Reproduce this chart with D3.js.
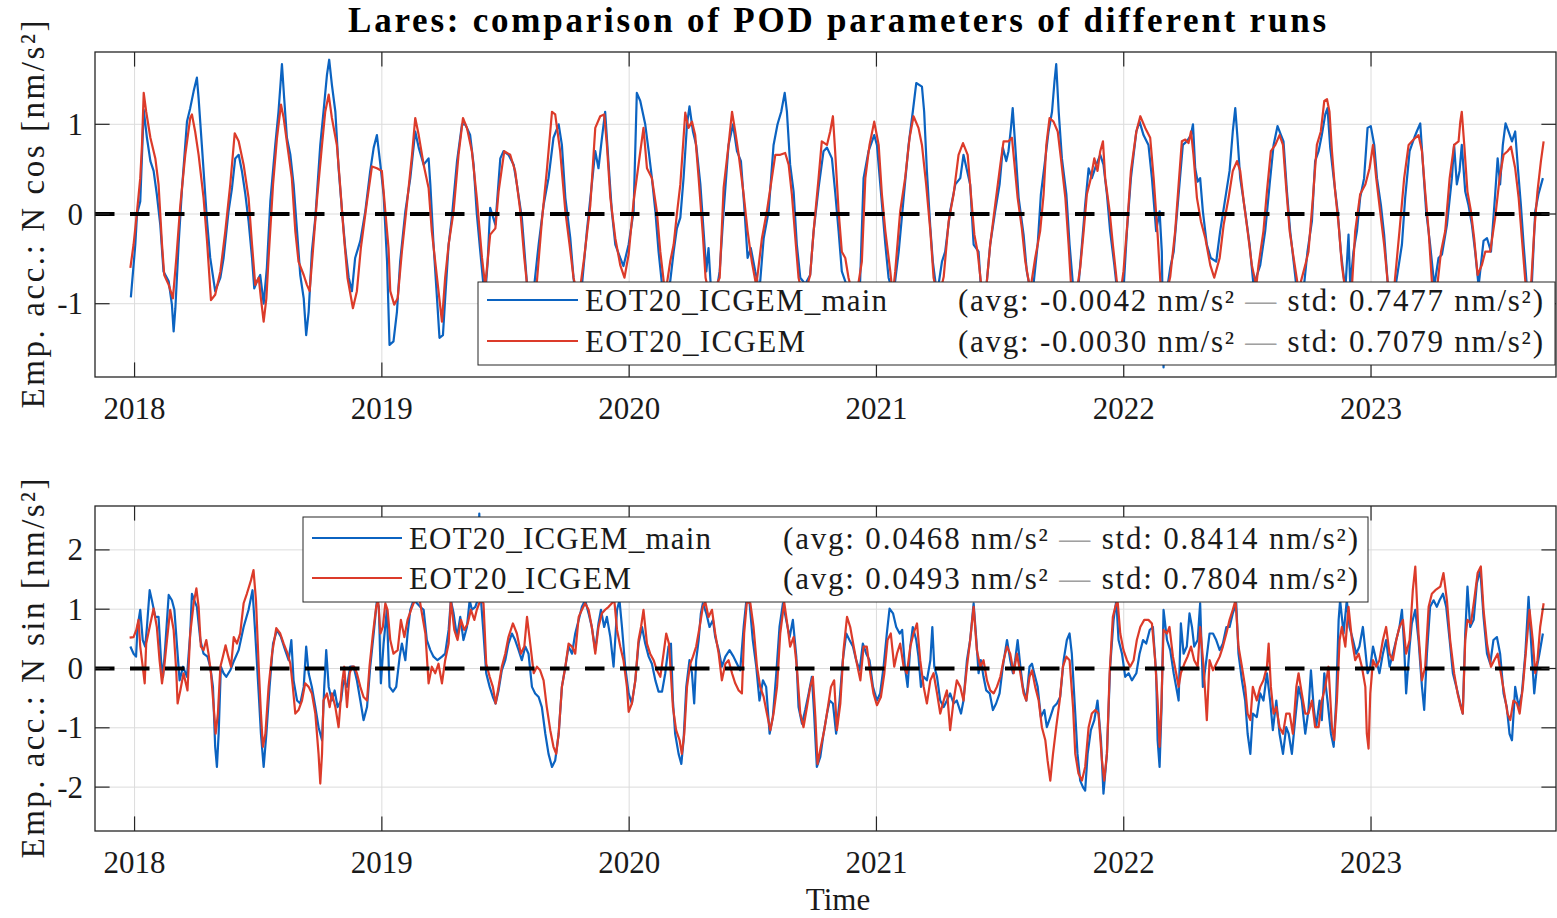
<!DOCTYPE html>
<html>
<head>
<meta charset="utf-8">
<script src="https://cdn.jsdelivr.net/npm/d3@7"></script>
<style>
  html, body { margin: 0; padding: 0; background: #fff; }
  svg { display: block; font-family: "Liberation Serif", "Times New Roman", serif; }
</style>
</head>
<body>
<svg id="chart" width="1557" height="918"></svg>
<script>
// ---- data (decimal year, nm/s^2) ----
const cosMain = [[2017.985,-0.93],[2018.003,-0.34],[2018.010,0.00],[2018.023,0.14],[2018.037,1.16],[2018.050,0.85],[2018.064,0.59],[2018.077,0.48],[2018.090,0.22],[2018.104,-0.12],[2018.117,-0.64],[2018.138,-0.75],[2018.151,-1.01],[2018.158,-1.31],[2018.165,-1.05],[2018.178,-0.34],[2018.192,0.29],[2018.212,1.03],[2018.225,1.18],[2018.239,1.37],[2018.252,1.52],[2018.259,1.29],[2018.272,0.77],[2018.293,-0.08],[2018.306,-0.49],[2018.326,-0.86],[2018.347,-0.71],[2018.360,-0.49],[2018.380,0.03],[2018.394,0.29],[2018.407,0.62],[2018.421,0.66],[2018.434,0.48],[2018.448,0.22],[2018.461,-0.08],[2018.475,-0.49],[2018.484,-0.83],[2018.495,-0.75],[2018.508,-0.68],[2018.522,-1.00],[2018.535,-0.60],[2018.549,0.14],[2018.569,0.77],[2018.582,1.14],[2018.596,1.67],[2018.605,1.29],[2018.616,0.85],[2018.630,0.66],[2018.643,0.33],[2018.657,-0.19],[2018.670,-0.68],[2018.684,-0.94],[2018.694,-1.35],[2018.704,-1.09],[2018.717,-0.42],[2018.731,-0.04],[2018.751,0.77],[2018.764,1.14],[2018.778,1.55],[2018.787,1.72],[2018.798,1.44],[2018.812,1.14],[2018.825,0.51],[2018.839,0.03],[2018.852,-0.38],[2018.866,-0.71],[2018.879,-0.86],[2018.892,-0.49],[2018.913,-0.30],[2018.933,0.03],[2018.953,0.48],[2018.967,0.74],[2018.980,0.88],[2018.994,0.55],[2019.007,0.22],[2019.021,-0.53],[2019.031,-1.46],
[2019.047,-1.42],[2019.061,-1.09],[2019.074,-0.53],[2019.095,0.03],[2019.115,0.40],[2019.135,0.92],[2019.149,0.74],[2019.169,0.55],[2019.189,0.62],[2019.196,0.33],[2019.209,-0.34],[2019.223,-0.94],[2019.233,-1.38],[2019.247,-1.35],[2019.256,-0.94],[2019.270,-0.34],[2019.283,-0.04],[2019.304,0.59],[2019.324,1.00],[2019.337,1.00],[2019.357,0.88],[2019.371,0.55],[2019.384,0.00],[2019.398,-0.42],[2019.411,-0.80],[2019.418,-0.90],[2019.428,-0.53],[2019.438,0.07],[2019.459,-0.12],[2019.479,0.62],[2019.492,0.70],[2019.512,0.66],[2019.533,0.55],[2019.546,0.33],[2019.566,-0.04],[2019.580,-0.53],[2019.593,-1.00],[2019.614,-0.85],[2019.634,-0.34],[2019.654,0.10],[2019.674,0.40],[2019.694,0.85],[2019.715,1.00],[2019.728,0.77],[2019.742,0.18],[2019.762,-0.27],[2019.775,-0.71],[2019.789,-1.05],[2019.809,-0.80],[2019.829,-0.19],[2019.849,0.33],[2019.863,0.70],[2019.876,0.51],[2019.890,0.85],[2019.903,1.14],[2019.917,0.55],[2019.930,0.03],[2019.944,-0.34],[2019.964,-0.49],[2019.977,-0.58],[2019.998,-0.34],[2020.018,0.03],[2020.031,1.35],[2020.045,1.26],[2020.065,1.00],[2020.079,0.70],[2020.092,0.40],[2020.106,0.03],[2020.119,-0.42],[2020.133,-0.79],[2020.146,-1.05],[2020.166,-0.75],[2020.180,-0.42],[2020.193,-0.16],[2020.207,-0.04],
[2020.220,0.40],[2020.234,1.00],[2020.244,1.20],[2020.258,0.92],[2020.271,0.77],[2020.288,0.33],[2020.301,-0.19],[2020.312,-0.64],[2020.321,-0.38],[2020.331,-0.85],[2020.348,-0.95],[2020.366,-0.64],[2020.382,0.03],[2020.402,0.77],[2020.420,1.00],[2020.436,0.70],[2020.452,0.59],[2020.465,0.10],[2020.479,-0.49],[2020.492,-0.38],[2020.510,-0.64],[2020.527,-0.85],[2020.544,-0.27],[2020.564,0.03],[2020.584,0.77],[2020.600,1.00],[2020.615,1.14],[2020.629,1.35],[2020.638,1.14],[2020.651,0.55],[2020.665,0.25],[2020.678,-0.34],[2020.692,-0.71],[2020.712,-0.78],[2020.732,-0.68],[2020.746,-0.19],[2020.766,0.29],[2020.786,0.70],[2020.800,0.74],[2020.820,0.62],[2020.833,0.25],[2020.847,-0.19],[2020.860,-0.64],[2020.874,-0.75],[2020.894,-1.00],[2020.921,-0.95],[2020.934,-0.75],[2020.948,0.40],[2020.968,0.70],[2020.991,0.88],[2021.002,0.77],[2021.018,0.25],[2021.036,-0.34],[2021.049,-0.71],[2021.069,-0.90],[2021.090,-0.42],[2021.110,0.18],[2021.130,0.77],[2021.147,1.14],[2021.161,1.46],[2021.184,1.42],[2021.193,1.14],[2021.204,0.48],[2021.218,-0.16],[2021.228,-0.53],[2021.245,-0.90],[2021.265,-0.53],[2021.278,-0.42],[2021.298,0.03],[2021.319,0.33],[2021.339,0.40],[2021.352,0.66],
[2021.379,0.33],[2021.393,-0.34],[2021.413,-0.42],[2021.422,-0.80],[2021.440,-0.95],[2021.460,-0.34],[2021.480,0.03],[2021.498,0.33],[2021.511,0.74],[2021.525,0.59],[2021.534,0.70],[2021.544,0.96],[2021.551,1.18],[2021.561,0.77],[2021.575,0.18],[2021.595,-0.23],[2021.608,-0.64],[2021.629,-0.95],[2021.638,-0.71],[2021.652,-0.34],[2021.665,0.22],[2021.683,0.62],[2021.696,0.92],[2021.710,1.14],[2021.720,1.48],[2021.727,1.67],[2021.737,1.14],[2021.750,0.62],[2021.768,0.22],[2021.781,-0.34],[2021.795,-0.80],[2021.817,-0.80],[2021.831,-0.34],[2021.844,0.10],[2021.858,0.51],[2021.871,0.40],[2021.889,0.55],[2021.905,0.66],[2021.918,0.55],[2021.932,0.22],[2021.945,-0.19],[2021.962,-0.57],[2021.975,-0.90],[2021.999,-0.85],[2022.013,-0.19],[2022.029,0.40],[2022.051,0.92],[2022.064,1.03],[2022.080,0.88],[2022.100,0.77],[2022.114,0.40],[2022.131,-0.19],[2022.145,0.03],[2022.154,-0.42],[2022.161,-1.71],[2022.172,-0.90],[2022.188,-0.60],[2022.202,-0.42],[2022.222,0.22],[2022.239,0.77],[2022.255,0.81],[2022.272,0.88],[2022.280,1.00],[2022.289,0.51],[2022.299,0.36],[2022.309,0.40],[2022.320,0.03],[2022.336,-0.34],[2022.352,-0.49],[2022.374,-0.53],[2022.390,-0.19],[2022.411,0.18],[2022.428,0.48],[2022.441,0.92],[2022.451,1.18],[2022.460,0.85],[2022.471,0.40],[2022.491,0.03],[2022.509,-0.34],[2022.525,-0.80],[2022.552,-0.57],
[2022.572,-0.19],[2022.590,0.33],[2022.606,0.77],[2022.622,0.98],[2022.636,0.88],[2022.646,0.81],[2022.660,0.25],[2022.673,-0.19],[2022.687,-0.53],[2022.700,-0.85],[2022.727,-0.85],[2022.743,-0.42],[2022.761,-0.08],[2022.774,0.59],[2022.788,0.70],[2022.801,0.88],[2022.815,1.11],[2022.824,1.18],[2022.835,0.74],[2022.849,0.40],[2022.865,0.03],[2022.878,-0.42],[2022.896,-0.85],[2022.909,-0.23],[2022.916,-0.80],[2022.929,-0.42],[2022.943,-0.19],[2022.956,0.18],[2022.972,0.40],[2022.986,0.96],[2022.999,0.98],[2023.013,0.77],[2023.024,0.40],[2023.040,0.10],[2023.053,-0.23],[2023.067,-0.75],[2023.091,-0.95],[2023.125,-0.34],[2023.138,0.18],[2023.156,0.70],[2023.175,0.85],[2023.185,0.92],[2023.199,1.01],[2023.210,0.55],[2023.223,0.03],[2023.239,-0.34],[2023.256,-0.80],[2023.273,-0.49],[2023.287,-0.45],[2023.307,-0.12],[2023.327,0.40],[2023.336,0.77],[2023.347,0.33],[2023.358,0.48],[2023.367,0.77],[2023.381,0.25],[2023.394,0.10],[2023.408,-0.12],[2023.421,-0.42],[2023.435,-0.80],[2023.455,-0.30],[2023.469,-0.27],[2023.485,-0.42],[2023.502,0.22],[2023.512,0.62],[2023.522,0.33],[2023.533,0.77],[2023.544,1.01],[2023.556,0.92],[2023.570,0.81],[2023.583,0.92],[2023.594,0.51],[2023.606,0.10],[2023.617,-0.34],[2023.630,-0.80],[2023.650,-0.80],[2023.664,0.03],[2023.677,0.22],[2023.695,0.40]];

const cosRun = [[2017.983,-0.60],[2017.996,-0.34],[2018.010,0.03],[2018.023,0.40],[2018.030,0.77],[2018.037,1.35],[2018.047,1.14],[2018.064,0.85],[2018.084,0.62],[2018.097,0.33],[2018.111,-0.34],[2018.120,-0.68],[2018.138,-0.79],[2018.155,-0.94],[2018.169,-0.49],[2018.185,0.10],[2018.205,0.66],[2018.225,1.07],[2018.232,1.11],[2018.245,0.92],[2018.259,0.66],[2018.279,0.18],[2018.293,-0.30],[2018.309,-0.96],[2018.326,-0.90],[2018.347,-0.64],[2018.367,-0.19],[2018.387,0.33],[2018.405,0.90],[2018.421,0.81],[2018.441,0.55],[2018.461,0.18],[2018.475,-0.34],[2018.488,-0.79],[2018.502,-0.71],[2018.511,-0.94],[2018.522,-1.20],[2018.533,-0.94],[2018.542,-0.49],[2018.560,0.33],[2018.576,0.85],[2018.592,1.22],[2018.603,1.07],[2018.619,0.74],[2018.636,0.40],[2018.650,-0.19],[2018.663,-0.53],[2018.684,-0.68],[2018.697,-0.79],[2018.708,-0.86],[2018.721,-0.42],[2018.737,0.14],[2018.758,0.77],[2018.771,1.14],[2018.785,1.33],[2018.798,1.07],[2018.818,0.77],[2018.829,0.40],[2018.845,-0.19],[2018.861,-0.71],[2018.883,-1.05],[2018.899,-0.86],[2018.915,-0.38],[2018.940,0.14],[2018.960,0.53],[2018.980,0.51],[2019.000,0.48],[2019.014,0.03],[2019.027,-0.38],
[2019.034,-0.86],[2019.050,-1.01],[2019.064,-0.94],[2019.081,-0.42],[2019.101,0.10],[2019.122,0.66],[2019.135,1.07],[2019.149,0.88],[2019.169,0.55],[2019.189,0.29],[2019.202,-0.19],[2019.223,-0.71],[2019.243,-1.20],[2019.256,-0.71],[2019.270,-0.34],[2019.290,0.03],[2019.310,0.66],[2019.328,1.07],[2019.344,0.96],[2019.364,0.70],[2019.384,0.18],[2019.405,-0.49],[2019.418,-0.80],[2019.438,-0.23],[2019.459,-0.16],[2019.472,0.25],[2019.495,0.70],[2019.519,0.66],[2019.539,0.48],[2019.560,0.03],[2019.576,-0.49],[2019.593,-0.95],[2019.627,-0.75],[2019.647,-0.08],[2019.667,0.48],[2019.688,1.14],[2019.701,1.11],[2019.721,0.70],[2019.742,0.03],[2019.759,-0.34],[2019.775,-0.71],[2019.796,-0.95],[2019.818,-0.49],[2019.843,0.10],[2019.863,0.96],[2019.883,1.09],[2019.899,1.11],[2019.910,0.77],[2019.924,0.18],[2019.944,-0.27],[2019.964,-0.57],[2019.981,-0.71],[2019.998,-0.45],[2020.018,0.14],[2020.038,0.55],[2020.058,0.96],[2020.072,0.51],[2020.092,0.40],[2020.112,0.03],[2020.126,-0.42],[2020.146,-0.90],
[2020.166,-0.53],[2020.180,-0.34],[2020.193,0.00],[2020.207,0.33],[2020.227,1.13],[2020.240,0.96],[2020.254,1.03],[2020.267,0.88],[2020.281,0.40],[2020.298,-0.23],[2020.309,-0.71],[2020.328,-0.95],[2020.366,-0.71],[2020.382,0.29],[2020.402,0.77],[2020.416,1.14],[2020.429,0.92],[2020.443,0.66],[2020.463,0.22],[2020.479,-0.19],[2020.496,-0.53],[2020.514,-0.80],[2020.537,-0.27],[2020.557,0.03],[2020.577,0.40],[2020.591,0.66],[2020.611,0.66],[2020.631,0.68],[2020.645,0.55],[2020.658,0.22],[2020.672,-0.27],[2020.685,-0.71],[2020.705,-0.95],[2020.732,-0.68],[2020.746,-0.19],[2020.766,0.40],[2020.779,0.81],[2020.800,0.77],[2020.813,0.92],[2020.824,1.09],[2020.833,0.70],[2020.847,0.03],[2020.860,-0.42],[2020.874,-0.49],[2020.887,-0.71],[2020.914,-1.00],[2020.941,-0.53],[2020.955,0.40],[2020.972,0.77],[2020.991,1.03],[2021.009,0.77],[2021.022,0.22],[2021.036,-0.19],[2021.056,-0.64],[2021.066,-0.90],[2021.076,-0.64],[2021.096,0.03],[2021.116,0.40],[2021.134,0.85],[2021.150,1.09],[2021.170,0.96],[2021.184,0.77],[2021.201,0.33],[2021.218,-0.19],[2021.231,-0.71],[2021.251,-0.95],[2021.272,-0.70],[2021.292,-0.08],[2021.312,0.22],[2021.332,0.66],[2021.350,0.79],
[2021.369,0.66],[2021.382,0.22],[2021.396,-0.23],[2021.409,-0.42],[2021.422,-0.75],[2021.440,-0.95],[2021.460,-0.34],[2021.480,0.10],[2021.501,0.55],[2021.514,0.81],[2021.534,0.81],[2021.548,0.85],[2021.557,0.59],[2021.571,0.18],[2021.588,-0.16],[2021.602,-0.53],[2021.622,-0.85],[2021.642,-0.49],[2021.662,-0.19],[2021.676,0.22],[2021.687,0.77],[2021.700,1.07],[2021.716,1.03],[2021.733,0.92],[2021.746,0.62],[2021.764,0.18],[2021.777,-0.34],[2021.786,-0.75],[2021.805,-0.95],[2021.824,-0.60],[2021.838,-0.19],[2021.851,0.22],[2021.867,0.40],[2021.881,0.62],[2021.894,0.48],[2021.905,0.70],[2021.916,0.81],[2021.925,0.40],[2021.943,0.03],[2021.956,-0.34],[2021.972,-0.75],[2021.986,-0.90],[2021.999,-0.64],[2022.013,-0.16],[2022.029,0.48],[2022.051,0.92],[2022.067,1.09],[2022.087,0.96],[2022.107,0.85],[2022.121,0.40],[2022.137,-0.23],[2022.148,-0.75],[2022.168,-0.95],[2022.188,-0.70],[2022.208,-0.19],[2022.222,0.33],[2022.235,0.81],[2022.249,0.83],[2022.262,0.79],[2022.272,0.92],[2022.282,0.66],[2022.296,0.18],[2022.312,-0.08],[2022.330,-0.27],[2022.350,-0.57],[2022.366,-0.71],[2022.388,-0.49],[2022.404,-0.12],[2022.424,0.18],[2022.441,0.48],[2022.458,0.59],[2022.471,0.48],[2022.487,0.10],[2022.501,-0.19],[2022.518,-0.57],[2022.536,-0.80],
[2022.545,-0.57],[2022.565,-0.19],[2022.579,0.25],[2022.595,0.70],[2022.613,0.77],[2022.630,0.88],[2022.644,0.77],[2022.657,0.29],[2022.671,-0.19],[2022.687,-0.49],[2022.707,-0.85],[2022.734,-0.57],[2022.747,-0.42],[2022.765,0.18],[2022.781,0.77],[2022.797,0.92],[2022.811,1.26],[2022.822,1.28],[2022.832,1.14],[2022.842,0.70],[2022.855,0.25],[2022.869,-0.12],[2022.882,-0.57],[2022.896,-0.85],[2022.923,-0.80],[2022.936,-0.19],[2022.956,0.22],[2022.977,0.33],[2022.994,0.51],[2023.008,0.77],[2023.021,0.40],[2023.037,0.03],[2023.053,-0.34],[2023.067,-0.75],[2023.091,-0.90],[2023.115,-0.19],[2023.134,0.40],[2023.152,0.77],[2023.172,0.83],[2023.192,0.88],[2023.206,0.70],[2023.219,0.25],[2023.233,-0.19],[2023.246,-0.75],[2023.266,-0.85],[2023.283,-0.42],[2023.300,-0.19],[2023.318,0.40],[2023.336,0.77],[2023.354,0.81],[2023.361,1.03],[2023.367,1.14],[2023.377,0.77],[2023.390,0.25],[2023.404,0.03],[2023.417,-0.27],[2023.431,-0.68],[2023.448,-0.57],[2023.462,-0.42],[2023.482,-0.42],[2023.502,-0.04],[2023.520,0.40],[2023.536,0.66],[2023.552,0.70],[2023.566,0.75],[2023.583,0.51],[2023.597,0.18],[2023.610,-0.27],[2023.624,-0.75],[2023.646,-0.85],[2023.660,-0.19],[2023.673,0.25],[2023.687,0.59],[2023.698,0.81]];

const sinMain = [[2017.983,0.37],[2017.996,0.25],[2018.006,0.20],[2018.012,0.70],[2018.023,0.99],[2018.033,0.48],[2018.043,0.37],[2018.050,0.70],[2018.061,1.32],[2018.070,1.15],[2018.084,0.87],[2018.097,0.87],[2018.107,0.14],[2018.115,-0.14],[2018.124,0.37],[2018.138,1.24],[2018.151,1.15],[2018.161,0.99],[2018.171,0.42],[2018.182,-0.20],[2018.196,0.03],[2018.212,-0.14],[2018.225,0.59],[2018.232,1.26],[2018.241,1.15],[2018.252,1.04],[2018.266,0.48],[2018.279,0.25],[2018.295,0.20],[2018.306,0.03],[2018.317,-0.31],[2018.326,-1.32],[2018.333,-1.66],[2018.340,-1.10],[2018.349,0.03],[2018.360,-0.08],[2018.371,-0.14],[2018.387,-0.03],[2018.403,0.14],[2018.421,0.31],[2018.441,0.70],[2018.461,0.99],[2018.477,1.32],[2018.488,0.59],[2018.502,-0.42],[2018.511,-1.10],[2018.522,-1.66],[2018.533,-1.10],[2018.546,-0.31],[2018.560,0.42],[2018.576,0.65],[2018.592,0.53],[2018.609,0.31],[2018.623,0.14],[2018.634,0.48],[2018.643,-0.20],[2018.657,-0.54],[2018.670,-0.59],[2018.684,-0.31],[2018.694,0.37],[2018.704,-0.08],[2018.717,-0.31],[2018.731,-0.65],[2018.744,-0.99],[2018.758,-1.21],[2018.767,-0.31],[2018.775,0.31],[2018.785,-0.31],[2018.798,-0.54],[2018.809,-0.37],[2018.821,-0.65],[2018.835,-0.54],[2018.845,-0.20],[2018.859,-0.31],[2018.872,0.03],[2018.886,0.03],[2018.899,-0.20],[2018.913,-0.54],[2018.926,-0.87],[2018.940,-0.65],[2018.953,0.03],[2018.967,0.59],[2018.980,1.15],[2018.988,1.04],[2018.996,-0.25],
[2019.007,0.42],[2019.020,0.99],[2019.031,-0.31],[2019.045,-0.39],[2019.058,-0.31],[2019.072,0.20],[2019.081,0.42],[2019.095,0.14],[2019.104,0.59],[2019.115,0.99],[2019.128,1.15],[2019.142,1.10],[2019.155,1.04],[2019.169,0.99],[2019.182,0.48],[2019.196,0.31],[2019.209,0.20],[2019.225,0.14],[2019.243,0.20],[2019.256,0.25],[2019.270,0.65],[2019.279,1.15],[2019.290,0.93],[2019.304,0.53],[2019.317,0.87],[2019.330,0.48],[2019.344,0.70],[2019.355,1.15],[2019.364,0.99],[2019.378,1.04],[2019.387,1.15],[2019.394,2.61],[2019.401,1.15],[2019.411,0.59],[2019.422,-0.08],[2019.436,-0.31],[2019.449,-0.48],[2019.460,-0.59],[2019.472,-0.37],[2019.485,-0.03],[2019.499,0.14],[2019.512,0.42],[2019.526,0.59],[2019.539,0.48],[2019.553,0.31],[2019.566,0.14],[2019.580,0.37],[2019.593,0.25],[2019.607,-0.31],[2019.620,-0.42],[2019.634,-0.48],[2019.647,-0.65],[2019.661,-1.10],[2019.674,-1.44],[2019.688,-1.66],[2019.701,-1.55],[2019.715,-1.10],[2019.728,-0.31],[2019.742,0.03],[2019.755,0.37],[2019.769,0.25],[2019.782,0.59],[2019.796,0.82],[2019.809,1.04],[2019.822,1.15],[2019.836,0.93],[2019.849,0.70],[2019.863,0.31],[2019.876,0.76],[2019.886,0.99],[2019.899,0.70],[2019.910,0.87],[2019.924,0.53],[2019.937,0.03],[2019.951,0.99],[2019.961,1.15],[2019.971,0.70],[2019.984,0.03],[2019.998,-0.42],[2020.011,-0.59],[2020.025,-0.20],[2020.038,0.42],[2020.052,0.70],[2020.065,0.42],[2020.079,0.20],[2020.092,0.08],[2020.106,-0.20],[2020.119,-0.39],[2020.133,-0.39],[2020.146,-0.08],[2020.159,0.37],[2020.169,0.42],
[2020.177,-0.54],[2020.186,-1.10],[2020.200,-1.44],[2020.211,-1.61],[2020.220,-1.21],[2020.231,-0.31],[2020.244,0.14],[2020.254,-0.08],[2020.263,-0.59],[2020.271,0.14],[2020.281,0.48],[2020.290,0.93],[2020.298,1.10],[2020.312,0.93],[2020.325,0.70],[2020.339,0.82],[2020.348,0.53],[2020.362,0.31],[2020.375,0.03],[2020.389,0.20],[2020.406,0.31],[2020.422,0.20],[2020.436,0.08],[2020.449,-0.03],[2020.463,0.70],[2020.474,1.15],[2020.487,1.10],[2020.500,0.48],[2020.514,0.03],[2020.527,-0.54],[2020.541,-0.20],[2020.554,-0.31],[2020.568,-1.10],[2020.581,-0.82],[2020.595,-0.08],[2020.608,0.70],[2020.622,1.10],[2020.635,0.82],[2020.649,0.53],[2020.662,0.82],[2020.676,0.20],[2020.685,-0.65],[2020.699,-0.93],[2020.712,-0.70],[2020.726,-0.42],[2020.739,-0.14],[2020.748,-0.76],[2020.759,-1.66],[2020.773,-1.49],[2020.786,-1.10],[2020.800,-0.76],[2020.811,-0.54],[2020.824,-0.59],[2020.837,-1.10],[2020.851,-0.54],[2020.864,0.14],[2020.878,0.59],[2020.891,0.48],[2020.905,0.37],[2020.918,0.14],[2020.932,-0.03],[2020.945,0.42],[2020.959,0.25],[2020.972,0.14],[2020.986,-0.31],[2021.002,-0.54],[2021.015,-0.42],[2021.029,0.03],[2021.042,0.59],[2021.053,1.01],[2021.067,0.93],[2021.080,0.70],[2021.094,0.59],[2021.104,0.65],[2021.115,0.03],[2021.126,-0.31],[2021.137,0.37],[2021.147,0.70],[2021.161,0.48],[2021.170,0.20],[2021.180,-0.31],[2021.191,-0.14],[2021.204,-0.20],[2021.218,0.14],[2021.226,0.70],[2021.234,0.03],[2021.245,-0.14],[2021.258,-0.54],[2021.272,-0.65],[2021.285,-0.54],[2021.298,-0.42],[2021.312,-0.59],[2021.325,-0.54],[2021.342,-0.76],
[2021.352,-0.54],[2021.366,0.14],[2021.379,0.48],[2021.393,1.10],[2021.404,0.48],[2021.413,-0.08],[2021.422,0.14],[2021.433,-0.14],[2021.444,-0.37],[2021.458,-0.42],[2021.471,-0.70],[2021.484,-0.59],[2021.498,-0.42],[2021.511,0.03],[2021.528,0.48],[2021.541,0.14],[2021.552,-0.08],[2021.561,0.14],[2021.571,0.48],[2021.582,0.03],[2021.592,-0.31],[2021.606,-0.54],[2021.619,0.03],[2021.629,0.08],[2021.638,-0.08],[2021.652,-0.31],[2021.665,-0.82],[2021.679,-0.70],[2021.689,-0.99],[2021.703,-0.82],[2021.716,-0.65],[2021.730,-0.59],[2021.743,-0.48],[2021.757,0.14],[2021.770,0.48],[2021.781,0.59],[2021.790,0.25],[2021.804,-0.76],[2021.813,-1.44],[2021.824,-1.89],[2021.835,-2.00],[2021.844,-2.06],[2021.854,-1.44],[2021.867,-1.04],[2021.881,-0.87],[2021.894,-0.54],[2021.908,-1.21],[2021.918,-2.11],[2021.932,-1.44],[2021.945,0.03],[2021.959,0.82],[2021.970,1.15],[2021.979,0.48],[2021.993,0.25],[2022.006,-0.14],[2022.020,-0.08],[2022.033,-0.20],[2022.051,-0.08],[2022.064,0.25],[2022.078,0.48],[2022.091,0.42],[2022.105,0.65],[2022.118,0.70],[2022.131,-0.08],[2022.137,-1.21],[2022.145,-1.66],[2022.153,-0.65],[2022.161,0.99],[2022.175,0.48],[2022.188,0.31],[2022.202,-0.08],[2022.212,-0.31],[2022.222,-0.54],[2022.231,0.76],[2022.242,0.25],[2022.255,0.37],[2022.266,0.93],[2022.276,0.70],[2022.285,0.37],[2022.299,0.48],[2022.309,1.10],[2022.320,-0.31],[2022.334,0.14],[2022.347,0.59],[2022.361,0.59],[2022.374,0.48],[2022.388,0.31],[2022.401,0.42],[2022.415,0.70],[2022.428,0.70],[2022.441,0.93],[2022.455,1.10],[2022.464,0.25],[2022.478,-0.20],[2022.491,-0.54],[2022.501,-1.10],[2022.512,-1.44],[2022.522,-0.76],
[2022.538,-0.82],[2022.552,-0.42],[2022.565,-0.54],[2022.579,-0.08],[2022.592,-0.54],[2022.603,-1.04],[2022.617,-0.54],[2022.630,-1.10],[2022.644,-1.44],[2022.657,-0.99],[2022.667,-1.10],[2022.680,-1.44],[2022.693,-0.87],[2022.707,-0.31],[2022.720,-0.54],[2022.734,-1.10],[2022.747,-0.70],[2022.757,-0.03],[2022.768,-0.65],[2022.778,-0.99],[2022.792,-0.54],[2022.801,-0.87],[2022.811,-0.08],[2022.824,-0.54],[2022.838,-1.10],[2022.849,-1.32],[2022.859,-0.54],[2022.869,0.82],[2022.875,1.15],[2022.889,0.59],[2022.902,1.15],[2022.913,0.70],[2022.927,0.48],[2022.940,0.25],[2022.953,0.37],[2022.967,0.70],[2022.977,0.31],[2022.986,-0.08],[2022.997,0.03],[2023.008,0.37],[2023.021,0.14],[2023.034,-0.08],[2023.048,0.25],[2023.061,0.48],[2023.075,0.03],[2023.088,0.25],[2023.102,0.48],[2023.115,0.70],[2023.125,0.99],[2023.134,0.37],[2023.142,-0.42],[2023.156,0.37],[2023.165,0.76],[2023.179,0.99],[2023.192,0.48],[2023.206,-0.31],[2023.215,-0.70],[2023.226,0.25],[2023.239,1.04],[2023.253,1.15],[2023.266,1.04],[2023.277,1.15],[2023.291,1.26],[2023.304,1.04],[2023.318,0.48],[2023.331,-0.08],[2023.345,-0.31],[2023.358,-0.54],[2023.371,-0.76],[2023.381,0.59],[2023.390,1.38],[2023.401,0.70],[2023.415,0.82],[2023.428,1.44],[2023.442,1.66],[2023.455,0.87],[2023.469,0.25],[2023.482,0.08],[2023.495,0.48],[2023.509,0.53],[2023.522,0.25],[2023.536,-0.42],[2023.549,-0.65],[2023.560,-1.10],[2023.570,-1.21],[2023.583,-0.31],[2023.597,-0.65],[2023.610,-0.42],[2023.624,0.25],[2023.637,1.21],[2023.650,0.25],[2023.660,-0.42],[2023.671,0.03],[2023.681,0.25],[2023.695,0.59]];

const sinRun = [[2017.980,0.52],[2017.996,0.53],[2018.007,0.65],[2018.016,0.82],[2018.023,0.37],[2018.033,0.03],[2018.041,-0.25],[2018.047,0.42],[2018.064,0.76],[2018.077,1.01],[2018.090,0.70],[2018.101,0.14],[2018.111,-0.25],[2018.120,0.03],[2018.131,0.48],[2018.144,0.99],[2018.158,0.65],[2018.169,-0.08],[2018.174,-0.59],[2018.185,-0.37],[2018.198,-0.08],[2018.214,-0.37],[2018.225,0.59],[2018.239,1.10],[2018.250,1.35],[2018.259,1.04],[2018.268,0.37],[2018.279,0.31],[2018.290,0.48],[2018.299,0.25],[2018.309,-0.08],[2018.320,-0.65],[2018.328,-1.10],[2018.337,-0.76],[2018.347,0.03],[2018.357,0.20],[2018.368,0.39],[2018.379,0.20],[2018.390,0.03],[2018.401,0.53],[2018.414,0.42],[2018.427,0.59],[2018.441,1.10],[2018.454,1.26],[2018.471,1.49],[2018.481,1.66],[2018.491,1.15],[2018.502,0.03],[2018.511,-0.76],[2018.519,-1.32],[2018.529,-1.10],[2018.542,-0.31],[2018.556,0.25],[2018.573,0.68],[2018.589,0.59],[2018.603,0.42],[2018.619,0.25],[2018.630,0.08],[2018.640,-0.31],[2018.650,-0.76],[2018.663,-0.70],[2018.677,-0.54],[2018.690,-0.25],[2018.704,-0.31],[2018.717,-0.42],[2018.731,-0.76],[2018.744,-1.44],[2018.751,-1.94],[2018.758,-1.44],[2018.764,-0.54],[2018.778,-0.42],[2018.789,-0.65],[2018.798,-0.42],[2018.812,-0.65],[2018.825,-0.99],[2018.839,-0.25],[2018.848,0.03],[2018.859,-0.65],[2018.870,-0.08],[2018.879,0.03],[2018.888,0.03],[2018.899,-0.08],[2018.913,-0.31],[2018.926,-0.48],[2018.940,-0.54],[2018.950,0.03],[2018.964,0.59],[2018.977,1.04],[2018.985,1.15],[2018.994,0.59],
[2019.004,0.70],[2019.014,1.10],[2019.023,0.99],[2019.034,0.48],[2019.047,0.25],[2019.064,0.31],[2019.077,0.82],[2019.091,0.53],[2019.104,0.82],[2019.118,0.99],[2019.128,1.10],[2019.139,1.15],[2019.153,1.15],[2019.162,0.93],[2019.176,0.59],[2019.189,-0.25],[2019.202,0.03],[2019.216,-0.08],[2019.229,0.08],[2019.243,-0.25],[2019.256,0.14],[2019.270,0.42],[2019.279,1.15],[2019.293,0.65],[2019.306,0.48],[2019.320,0.82],[2019.333,0.65],[2019.347,0.76],[2019.360,0.99],[2019.374,0.82],[2019.384,0.99],[2019.398,1.15],[2019.411,1.10],[2019.422,0.08],[2019.436,-0.14],[2019.449,-0.31],[2019.460,-0.59],[2019.472,-0.31],[2019.485,0.03],[2019.499,0.25],[2019.512,0.53],[2019.530,0.76],[2019.546,0.59],[2019.562,0.25],[2019.576,0.37],[2019.587,0.87],[2019.600,0.42],[2019.614,-0.08],[2019.627,0.03],[2019.640,-0.03],[2019.654,-0.20],[2019.667,-0.65],[2019.681,-1.04],[2019.694,-1.32],[2019.705,-1.44],[2019.715,-1.10],[2019.728,-0.31],[2019.742,0.03],[2019.755,0.42],[2019.769,0.37],[2019.782,0.25],[2019.796,0.87],[2019.809,0.99],[2019.822,1.10],[2019.836,0.99],[2019.849,0.70],[2019.863,0.25],[2019.876,0.70],[2019.890,0.93],[2019.903,0.99],[2019.917,1.04],[2019.930,1.10],[2019.940,1.15],[2019.951,0.65],[2019.964,0.37],[2019.977,0.14],[2019.991,-0.31],[2019.998,-0.73],[2020.011,-0.59],[2020.025,-0.20],[2020.038,0.48],[2020.048,0.70],[2020.058,0.99],[2020.072,0.42],[2020.085,0.25],[2020.099,0.14],[2020.112,-0.03],[2020.126,-0.14],[2020.139,0.25],[2020.150,0.59],[2020.161,0.42],
[2020.177,-0.65],[2020.190,-1.04],[2020.204,-1.21],[2020.213,-1.44],[2020.223,-1.10],[2020.234,-0.31],[2020.247,0.08],[2020.258,0.20],[2020.271,0.37],[2020.285,0.70],[2020.298,1.04],[2020.308,1.12],[2020.321,0.87],[2020.335,0.99],[2020.348,0.59],[2020.362,0.25],[2020.375,-0.20],[2020.389,0.08],[2020.402,0.14],[2020.416,-0.08],[2020.429,-0.25],[2020.443,-0.37],[2020.456,-0.42],[2020.465,0.59],[2020.476,1.12],[2020.490,1.10],[2020.503,0.70],[2020.517,0.03],[2020.530,-0.31],[2020.544,-0.48],[2020.557,-0.76],[2020.571,-1.04],[2020.584,-0.76],[2020.598,-0.31],[2020.611,0.59],[2020.627,1.12],[2020.641,0.70],[2020.651,0.37],[2020.665,0.53],[2020.678,0.03],[2020.692,-0.76],[2020.705,-0.99],[2020.719,-0.65],[2020.732,-0.31],[2020.743,-0.14],[2020.753,-0.82],[2020.762,-1.61],[2020.775,-1.32],[2020.789,-1.04],[2020.802,-0.70],[2020.816,-0.31],[2020.829,-0.20],[2020.840,-1.04],[2020.854,-0.59],[2020.867,0.31],[2020.881,0.87],[2020.894,0.70],[2020.908,0.37],[2020.921,0.08],[2020.935,-0.20],[2020.948,0.37],[2020.961,0.37],[2020.975,-0.08],[2020.988,-0.42],[2021.002,-0.62],[2021.018,-0.48],[2021.032,-0.08],[2021.045,0.48],[2021.058,0.59],[2021.072,0.03],[2021.083,0.25],[2021.096,0.42],[2021.110,0.03],[2021.123,-0.08],[2021.137,0.37],[2021.150,0.59],[2021.164,0.76],[2021.177,0.14],[2021.191,-0.31],[2021.204,-0.59],[2021.218,-0.20],[2021.231,-0.08],[2021.245,-0.42],[2021.258,-0.76],[2021.272,-0.54],[2021.285,-0.37],[2021.298,-1.04],[2021.312,-0.54],[2021.325,-0.20],[2021.339,-0.31],[2021.352,-0.54],
[2021.366,0.03],[2021.379,0.48],[2021.393,1.04],[2021.406,0.31],[2021.420,0.03],[2021.433,0.14],[2021.447,-0.20],[2021.460,-0.37],[2021.474,-0.42],[2021.487,-0.31],[2021.501,-0.14],[2021.514,0.14],[2021.528,0.37],[2021.541,0.25],[2021.555,-0.08],[2021.568,0.25],[2021.582,-0.08],[2021.595,-0.42],[2021.606,-0.54],[2021.619,-0.14],[2021.629,-0.03],[2021.642,-0.31],[2021.656,-0.54],[2021.669,-0.99],[2021.683,-1.21],[2021.692,-1.55],[2021.703,-1.89],[2021.714,-1.44],[2021.727,-0.99],[2021.741,-0.54],[2021.754,0.03],[2021.768,0.20],[2021.781,0.14],[2021.795,-0.65],[2021.804,-1.44],[2021.817,-1.77],[2021.831,-1.89],[2021.844,-1.66],[2021.858,-0.99],[2021.871,-0.76],[2021.885,-0.70],[2021.898,-0.76],[2021.912,-1.55],[2021.921,-1.89],[2021.932,-1.44],[2021.943,-0.08],[2021.956,0.87],[2021.966,1.04],[2021.975,1.15],[2021.986,0.59],[2021.999,0.31],[2022.013,0.14],[2022.026,0.03],[2022.040,0.14],[2022.053,0.48],[2022.067,0.70],[2022.083,0.82],[2022.100,0.82],[2022.114,0.76],[2022.127,0.14],[2022.137,-0.54],[2022.145,-1.32],[2022.152,-0.65],[2022.161,0.65],[2022.175,0.59],[2022.185,0.70],[2022.199,0.20],[2022.212,-0.08],[2022.222,-0.31],[2022.231,-0.08],[2022.245,0.08],[2022.258,0.20],[2022.272,0.37],[2022.285,0.14],[2022.299,0.03],[2022.309,0.70],[2022.323,0.03],[2022.336,-0.87],[2022.347,0.14],[2022.361,-0.03],[2022.374,0.08],[2022.388,0.20],[2022.401,0.37],[2022.415,0.59],[2022.428,0.82],[2022.441,0.99],[2022.452,1.15],[2022.464,0.37],[2022.478,0.03],[2022.491,-0.31],[2022.501,-0.76],[2022.512,-0.87],[2022.522,-0.31],
[2022.538,-0.54],[2022.552,-0.31],[2022.565,-0.20],[2022.579,0.03],[2022.586,0.42],[2022.595,-0.31],[2022.606,-0.76],[2022.617,-0.65],[2022.630,-0.99],[2022.644,-1.10],[2022.657,-0.76],[2022.671,-0.76],[2022.684,-1.10],[2022.698,-0.31],[2022.707,-0.08],[2022.720,-0.42],[2022.734,-0.76],[2022.747,-0.76],[2022.761,-0.54],[2022.774,-0.99],[2022.788,-0.99],[2022.801,-0.54],[2022.815,-0.31],[2022.828,0.03],[2022.842,-0.99],[2022.851,-1.21],[2022.862,-0.54],[2022.873,0.48],[2022.882,0.70],[2022.896,0.37],[2022.909,1.04],[2022.923,0.48],[2022.936,0.14],[2022.950,0.25],[2022.963,0.03],[2022.977,-0.31],[2022.983,-1.10],[2022.990,-1.35],[2022.997,-0.42],[2023.008,0.14],[2023.021,0.03],[2023.034,0.14],[2023.048,0.48],[2023.061,0.70],[2023.075,0.25],[2023.088,0.14],[2023.102,0.48],[2023.115,0.70],[2023.129,0.82],[2023.142,0.25],[2023.156,0.48],[2023.169,1.32],[2023.179,1.72],[2023.192,0.59],[2023.206,-0.20],[2023.219,0.03],[2023.233,1.04],[2023.246,1.26],[2023.260,1.32],[2023.280,1.38],[2023.293,1.61],[2023.307,1.15],[2023.320,0.48],[2023.336,-0.08],[2023.350,-0.42],[2023.363,-0.65],[2023.371,-0.76],[2023.381,0.48],[2023.390,0.82],[2023.404,0.76],[2023.417,1.15],[2023.431,1.61],[2023.444,1.72],[2023.455,0.99],[2023.469,0.42],[2023.485,0.03],[2023.498,0.14],[2023.512,0.25],[2023.525,-0.08],[2023.539,-0.42],[2023.552,-0.76],[2023.563,-0.87],[2023.576,-0.54],[2023.590,-0.59],[2023.601,-0.76],[2023.614,-0.31],[2023.628,0.37],[2023.641,0.99],[2023.654,0.48],[2023.664,-0.08],[2023.673,0.14],[2023.684,0.70],[2023.698,1.10]];

const yearTicks = [2018, 2019, 2020, 2021, 2022, 2023];
const cosTicks = [-1, 0, 1];
const sinTicks = [-2, -1, 0, 1, 2];
const runNames = ["EOT20_ICGEM_main", "EOT20_ICGEM"];
const cosAvg = ["-0.0042", "-0.0030"];
const cosStd = ["0.7477", "0.7079"];
const sinAvg = ["0.0468", "0.0493"];
const sinStd = ["0.8414", "0.7804"];

// ---- layout ----
const W = 1557, H = 918;
const left = 95, right = 1556;
const colors = ["#0b63c1", "#dc3b2a"];
const axisColor = "#262626";
const textColor = "#1a1a1a";
const fontSize = 31;
const tickLen = 14.6;

const svg = d3.select("#chart");
svg.append("rect").attr("width", W).attr("height", H).attr("fill", "#fff");

const x = d3.scaleLinear().domain([2017.84, 2023.748]).range([left, right]);

function drawPanel(p, idx) {
  const y = d3.scaleLinear().domain(p.yDomain).range([p.bottom, p.top]);
  const g = svg.append("g");

  // grid
  g.append("g").selectAll("line").data(yearTicks).join("line")
    .attr("x1", d => x(d)).attr("x2", d => x(d))
    .attr("y1", p.top).attr("y2", p.bottom)
    .attr("stroke", "#dcdcdc").attr("stroke-width", 1);
  g.append("g").selectAll("line").data(p.ticks).join("line")
    .attr("x1", left).attr("x2", right)
    .attr("y1", d => y(d)).attr("y2", d => y(d))
    .attr("stroke", "#dcdcdc").attr("stroke-width", 1);

  // data
  const clipId = "clip" + idx;
  svg.append("clipPath").attr("id", clipId).append("rect")
    .attr("x", left).attr("y", p.top).attr("width", right - left).attr("height", p.bottom - p.top);
  const line = d3.line().x(d => x(d[0])).y(d => y(d[1]));
  const dg = g.append("g").attr("clip-path", `url(#${clipId})`);
  p.series.forEach((s, i) => {
    dg.append("path").datum(s).attr("d", line)
      .attr("fill", "none").attr("stroke", colors[i]).attr("stroke-width", 2.2)
      .attr("stroke-linejoin", "round");
  });

  // zero reference line
  g.append("line")
    .attr("x1", left).attr("x2", right).attr("y1", y(0)).attr("y2", y(0))
    .attr("stroke", "#000").attr("stroke-width", 4).attr("stroke-dasharray", "19.5,15.5");

  // box and ticks
  g.append("rect").attr("x", left).attr("y", p.top)
    .attr("width", right - left).attr("height", p.bottom - p.top)
    .attr("fill", "none").attr("stroke", axisColor).attr("stroke-width", 1.3);
  const tk = g.append("g").attr("stroke", axisColor).attr("stroke-width", 1.2);
  yearTicks.forEach(t => {
    tk.append("line").attr("x1", x(t)).attr("x2", x(t)).attr("y1", p.bottom).attr("y2", p.bottom - tickLen);
    tk.append("line").attr("x1", x(t)).attr("x2", x(t)).attr("y1", p.top).attr("y2", p.top + tickLen);
  });
  p.ticks.forEach(t => {
    tk.append("line").attr("x1", left).attr("x2", left + tickLen).attr("y1", y(t)).attr("y2", y(t));
    tk.append("line").attr("x1", right).attr("x2", right - tickLen).attr("y1", y(t)).attr("y2", y(t));
  });

  // tick labels
  g.append("g").selectAll("text").data(yearTicks).join("text")
    .attr("x", d => x(d)).attr("y", p.bottom + 42)
    .attr("text-anchor", "middle").attr("font-size", fontSize).attr("fill", textColor)
    .text(d => d);
  g.append("g").selectAll("text").data(p.ticks).join("text")
    .attr("x", 83).attr("y", d => y(d) + 10.5)
    .attr("text-anchor", "end").attr("font-size", fontSize).attr("fill", textColor)
    .text(d => d);

  // y label
  g.append("text")
    .attr("transform", `translate(44,${(p.top + p.bottom) / 2}) rotate(-90)`)
    .attr("text-anchor", "middle").attr("font-size", 33).attr("fill", textColor)
    .attr("textLength", p.labelLen).attr("lengthAdjust", "spacing")
    .text(p.ylabel);

  // legend
  const L = p.legend;
  const lg = g.append("g");
  lg.append("rect").attr("x", L.x).attr("y", L.y).attr("width", L.w).attr("height", L.h)
    .attr("fill", "#fff").attr("stroke", axisColor).attr("stroke-width", 1);
  runNames.forEach((name, i) => {
    const cy = L.rows[i];
    lg.append("line").attr("x1", L.lx0).attr("x2", L.lx1).attr("y1", cy).attr("y2", cy)
      .attr("stroke", colors[i]).attr("stroke-width", 2.2);
    lg.append("text").attr("x", L.nameX).attr("y", cy + 10.5)
      .attr("font-size", fontSize).attr("fill", textColor)
      .attr("textLength", L.nameLen[i]).attr("lengthAdjust", "spacing")
      .text(name);
    const st = lg.append("text").attr("x", L.statX).attr("y", cy + 10.5)
      .attr("font-size", fontSize).attr("fill", textColor)
      .attr("textLength", L.statLen).attr("lengthAdjust", "spacing");
    st.append("tspan").text(`(avg: ${p.avg[i]} nm/s² `);
    st.append("tspan").attr("fill", "#a0a0a0").text("—");
    st.append("tspan").text(` std: ${p.std[i]} nm/s²)`);
  });
}

const panels = [
  {
    top: 52, bottom: 377, yDomain: [-1.817, 1.806], ticks: cosTicks,
    series: [cosMain, cosRun], avg: cosAvg, std: cosStd,
    ylabel: "Emp. acc.: N cos [nm/s²]", labelLen: 388,
    legend: { x: 478, y: 282, w: 1077, h: 83, rows: [300, 341], lx0: 487, lx1: 578,
              nameX: 585, nameLen: [302, 220], statX: 958, statLen: 585 }
  },
  {
    top: 506, bottom: 831, yDomain: [-2.74, 2.74], ticks: sinTicks,
    series: [sinMain, sinRun], avg: sinAvg, std: sinStd,
    ylabel: "Emp. acc.: N sin [nm/s²]", labelLen: 380,
    legend: { x: 303, y: 517, w: 1065, h: 85, rows: [538, 578], lx0: 312, lx1: 402,
              nameX: 409, nameLen: [302, 222], statX: 783, statLen: 575 }
  }
];
panels.forEach(drawPanel);

// title and x label
svg.append("text").attr("x", 837).attr("y", 32)
  .attr("text-anchor", "middle").attr("font-size", 35).attr("font-weight", "bold")
  .attr("fill", "#000").attr("textLength", 978).attr("lengthAdjust", "spacing")
  .text("Lares: comparison of POD parameters of different runs");
svg.append("text").attr("x", 838).attr("y", 910)
  .attr("text-anchor", "middle").attr("font-size", fontSize).attr("fill", textColor)
  .text("Time");
</script>
</body>
</html>
